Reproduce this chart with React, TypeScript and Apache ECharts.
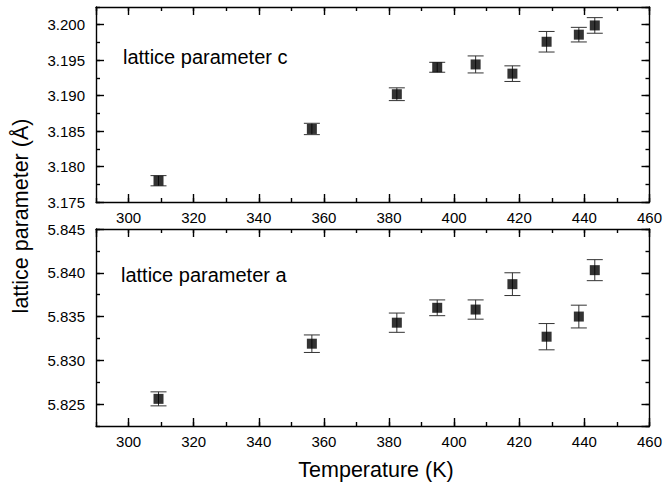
import React, { useEffect, useRef } from "react";
import * as echarts from "echarts";

const temperatures = [309.2, 356.3, 382.4, 394.8, 406.6, 417.9, 428.4, 438.3, 443.2];
const paramC = [3.178, 3.1853, 3.1902, 3.194, 3.1944, 3.1931, 3.1976, 3.1986, 3.1999];
const errC = [0.00072, 0.0008, 0.0009, 0.0007, 0.0012, 0.0011, 0.00145, 0.00103, 0.0011];
const paramA = [5.8256, 5.8319, 5.8343, 5.836, 5.8358, 5.8387, 5.8327, 5.835, 5.8403];
const errA = [0.0008, 0.001, 0.0011, 0.0009, 0.0011, 0.0013, 0.0015, 0.0013, 0.0012];

const X_MIN = 290;
const X_MAX = 460;
const C_MIN = 3.175;
const C_MAX = 3.2025;
const A_MIN = 5.8225;
const A_MAX = 5.845;

const FONT = "Liberation Sans, Arial, sans-serif";

export default function App() {
  const ref = useRef<HTMLDivElement>(null);

  useEffect(() => {
    if (!ref.current) return;
    const chart = echarts.init(ref.current, undefined, { renderer: "svg" });

    const grids = [
      { left: 96, right: 13, top: 7, height: 195 },
      { left: 96, right: 13, top: 229, height: 197 },
    ];

    const lineStyle = { color: "#000", width: 1.4 };

    const xAxes: any[] = [];
    const yAxes: any[] = [];
    [0, 1].forEach((g) => {
      xAxes.push({
        type: "value",
        gridIndex: g,
        min: X_MIN,
        max: X_MAX,
        splitNumber: 8,
        position: "bottom",
        axisLine: { show: true, onZero: false, lineStyle },
        axisTick: { show: true, inside: true, length: 8, lineStyle },
        axisLabel: {
          show: true,
          showMinLabel: false,
          margin: g === 0 ? 8 : 8,
          color: "#000",
          fontSize: 15,
          fontFamily: FONT,
          formatter: (v: number) => String(Math.round(v)),
        },
        splitLine: { show: false },
      });
      xAxes.push({
        type: "value",
        gridIndex: g,
        min: X_MIN,
        max: X_MAX,
        interval: 10,
        position: "bottom",
        axisLine: { show: false, onZero: false },
        axisTick: { show: true, inside: true, length: 4, lineStyle },
        axisLabel: { show: false },
        splitLine: { show: false },
      });
      xAxes.push({
        type: "value",
        gridIndex: g,
        min: X_MIN,
        max: X_MAX,
        splitNumber: 8,
        position: "top",
        axisLine: { show: true, onZero: false, lineStyle },
        axisTick: { show: true, inside: true, length: 8, lineStyle },
        axisLabel: { show: false },
        splitLine: { show: false },
      });
      xAxes.push({
        type: "value",
        gridIndex: g,
        min: X_MIN,
        max: X_MAX,
        interval: 10,
        position: "top",
        axisLine: { show: false, onZero: false },
        axisTick: { show: true, inside: true, length: 4, lineStyle },
        axisLabel: { show: false },
        splitLine: { show: false },
      });

      const yMin = g === 0 ? C_MIN : A_MIN;
      const yMax = g === 0 ? C_MAX : A_MAX;
      yAxes.push({
        type: "value",
        gridIndex: g,
        min: yMin,
        max: yMax,
        splitNumber: 5,
        position: "left",
        axisLine: { show: true, onZero: false, lineStyle },
        axisTick: { show: true, inside: true, length: 8, lineStyle },
        axisLabel: {
          show: true,
          showMinLabel: g === 0,
          showMaxLabel: g === 1,
          margin: 11,
          color: "#000",
          fontSize: 15,
          fontFamily: FONT,
          formatter: (v: number) => v.toFixed(3),
        },
        splitLine: { show: false },
      });
      yAxes.push({
        type: "value",
        gridIndex: g,
        min: yMin,
        max: yMax,
        interval: 0.0025,
        position: "left",
        axisLine: { show: false, onZero: false },
        axisTick: { show: true, inside: true, length: 4, lineStyle },
        axisLabel: { show: false },
        splitLine: { show: false },
      });
      yAxes.push({
        type: "value",
        gridIndex: g,
        min: yMin,
        max: yMax,
        splitNumber: 5,
        position: "right",
        axisLine: { show: true, onZero: false, lineStyle },
        axisTick: { show: true, inside: true, length: 8, lineStyle },
        axisLabel: { show: false },
        splitLine: { show: false },
      });
      yAxes.push({
        type: "value",
        gridIndex: g,
        min: yMin,
        max: yMax,
        interval: 0.0025,
        position: "right",
        axisLine: { show: false, onZero: false },
        axisTick: { show: true, inside: true, length: 4, lineStyle },
        axisLabel: { show: false },
        splitLine: { show: false },
      });
    });

    const errorRender = (params: any, api: any) => {
      const x = api.value(0);
      const y = api.value(1);
      const e = api.value(2);
      const lo = api.coord([x, y - e]);
      const hi = api.coord([x, y + e]);
      const cap = 8;
      const style = { stroke: "#333", lineWidth: 1 };
      return {
        type: "group",
        children: [
          { type: "line", shape: { x1: lo[0], y1: lo[1], x2: hi[0], y2: hi[1] }, style },
          { type: "line", shape: { x1: lo[0] - cap, y1: lo[1], x2: lo[0] + cap, y2: lo[1] }, style },
          { type: "line", shape: { x1: hi[0] - cap, y1: hi[1], x2: hi[0] + cap, y2: hi[1] }, style },
        ],
      };
    };

    const cData = temperatures.map((t, i) => [t, paramC[i], errC[i]]);
    const aData = temperatures.map((t, i) => [t, paramA[i], errA[i]]);

    chart.setOption({
      animation: false,
      backgroundColor: "#fff",
      grid: grids,
      xAxis: xAxes,
      yAxis: yAxes,
      series: [
        {
          type: "custom",
          name: "c error",
          xAxisIndex: 0,
          yAxisIndex: 0,
          renderItem: errorRender,
          data: cData,
          z: 2,
        },
        {
          type: "scatter",
          name: "lattice parameter c",
          xAxisIndex: 0,
          yAxisIndex: 0,
          symbol: "rect",
          symbolSize: 10,
          itemStyle: { color: "#000" },
          data: cData.map((d) => [d[0], d[1]]),
          z: 3,
        },
        {
          type: "custom",
          name: "a error",
          xAxisIndex: 4,
          yAxisIndex: 4,
          renderItem: errorRender,
          data: aData,
          z: 2,
        },
        {
          type: "scatter",
          name: "lattice parameter a",
          xAxisIndex: 4,
          yAxisIndex: 4,
          symbol: "rect",
          symbolSize: 10,
          itemStyle: { color: "#000" },
          data: aData.map((d) => [d[0], d[1]]),
          z: 3,
        },
      ],
      graphic: [
        {
          type: "text",
          left: 123,
          top: 47,
          style: { text: "lattice parameter c", fontSize: 20, fontFamily: FONT, fill: "#000" },
        },
        {
          type: "text",
          left: 121,
          top: 265,
          style: { text: "lattice parameter a", fontSize: 20, fontFamily: FONT, fill: "#000" },
        },
        {
          type: "text",
          x: 21,
          y: 216,
          rotation: Math.PI / 2,
          style: {
            text: "lattice parameter (Å)",
            fontSize: 21.5,
            fontFamily: FONT,
            fill: "#000",
            align: "center",
            verticalAlign: "middle",
          },
        },
        {
          type: "text",
          x: 376,
          y: 470,
          style: {
            text: "Temperature (K)",
            fontSize: 21.5,
            fontFamily: FONT,
            fill: "#000",
            align: "center",
            verticalAlign: "middle",
          },
        },
      ],
    });

    return () => chart.dispose();
  }, []);

  return (
    <div style={{ position: "absolute", left: 0, top: 0, width: 665, height: 488, background: "#fff" }}>
      <div ref={ref} style={{ width: 665, height: 488 }} />
    </div>
  );
}
